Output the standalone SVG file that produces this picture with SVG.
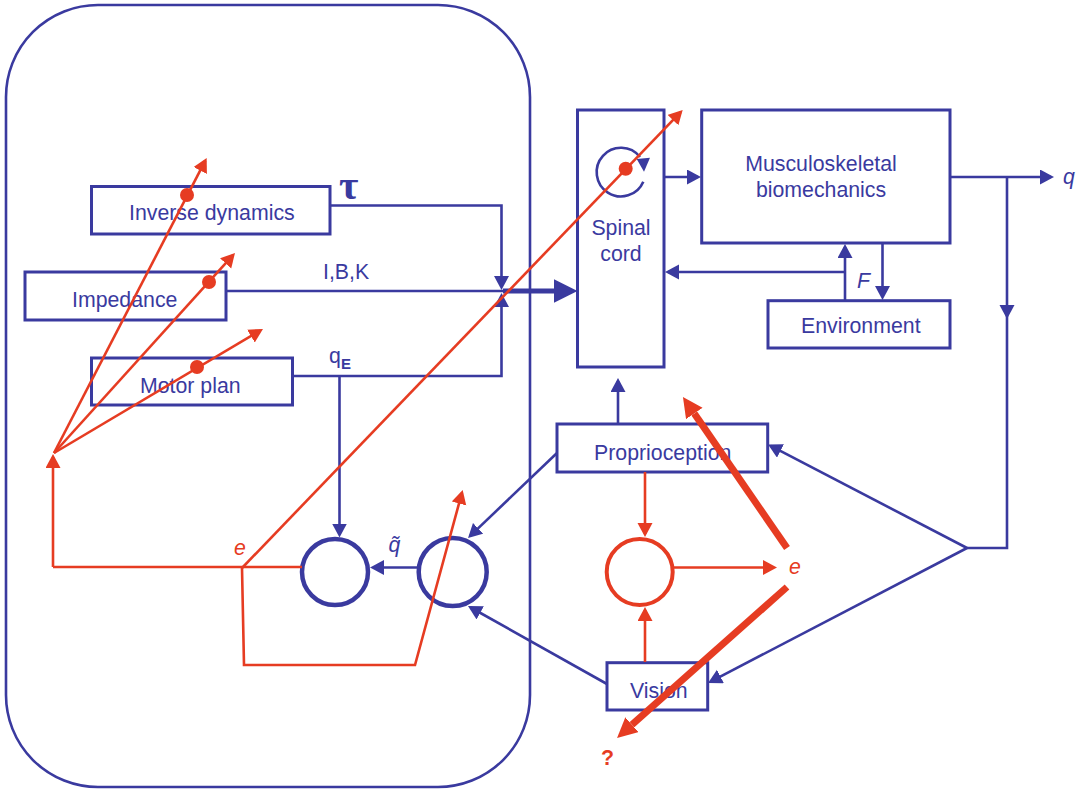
<svg xmlns="http://www.w3.org/2000/svg" width="1082" height="790" viewBox="0 0 1082 790">
<style>
.b{fill:#fff;stroke:#3a3a9f;stroke-width:3}
.l{fill:none;stroke:#3a3a9f;stroke-width:2.6}
.r{fill:none;stroke:#e63c22;stroke-width:2.6}
.rt{fill:none;stroke:#e63c22;stroke-width:7}
.t{font-family:"Liberation Sans",Arial,sans-serif;font-size:21.3px;fill:#3a3a9f}
.m{text-anchor:middle}
.i{font-style:italic}
.re{fill:#e63c22}
.bl{fill:#3a3a9f}
.c{fill:#fff;stroke:#3a3a9f;stroke-width:4.5}
.cr{fill:#fff;stroke:#e63c22;stroke-width:4}
</style>
<defs>
<marker id="ab" markerUnits="userSpaceOnUse" markerWidth="16" markerHeight="16" refX="11" refY="7.500" orient="auto"><path d="M0 0L14 7.500L0 15z" fill="#3a3a9f"/></marker>
<marker id="abb" markerUnits="userSpaceOnUse" markerWidth="25" markerHeight="25" refX="16" refY="12" orient="auto"><path d="M0 0L24 12L0 24z" fill="#3a3a9f"/></marker>
<marker id="ar" markerUnits="userSpaceOnUse" markerWidth="16" markerHeight="16" refX="11" refY="7.500" orient="auto"><path d="M0 0L14 7.500L0 15z" fill="#e63c22"/></marker>
<marker id="arb" markerUnits="userSpaceOnUse" markerWidth="24" markerHeight="24" refX="0" refY="10" orient="auto"><path d="M0 0L20 10L0 20z" fill="#e63c22"/></marker>
</defs>
<rect id="boundary" x="6" y="5" width="524" height="782" rx="92" ry="92" fill="#fff" stroke="#3a3a9f" stroke-width="2.600"/>
<g id="connectors-blue">
<path class="l" d="M330 205.500H501.500V287" marker-end="url(#ab)"/>
<path class="l" d="M292 376H501.500V296" marker-end="url(#ab)"/>
<path class="l" d="M226 291H505"/>
<path fill="none" stroke="#3a3a9f" stroke-width="5" d="M503 291H569.500" marker-end="url(#abb)"/>
<path class="l" d="M339.500 376V534.500" marker-end="url(#ab)"/>
<path class="l" d="M418 567.500H373" marker-end="url(#ab)"/>
<path class="l" d="M557 453L470.200 535.900" marker-end="url(#ab)"/>
<path class="l" d="M607 684L470.600 607.500" marker-end="url(#ab)"/>
<path class="l" d="M664 177H698" marker-end="url(#ab)"/>
<path class="l" d="M845 301V247" marker-end="url(#ab)"/>
<path class="l" d="M845 272H668" marker-end="url(#ab)"/>
<path class="l" d="M882.500 243V297" marker-end="url(#ab)"/>
<path class="l" d="M950 177H1051" marker-end="url(#ab)"/>
<path class="l" d="M1007 177V316" marker-end="url(#ab)"/>
<path class="l" d="M1007 316V548H967"/>
<path class="l" d="M967 548L770.700 445.900" marker-end="url(#ab)"/>
<path class="l" d="M967 548L710.700 681.600" marker-end="url(#ab)"/>
<path class="l" d="M618 424V381" marker-end="url(#ab)"/>
<path class="l" d="M643.300 181.700A24.300 24.300 0 1 1 640 157"/>
<path class="bl" d="M650 157.700L636.700 159L644 171.700z"/>
</g>
<g id="inverse-dynamics"><rect class="b" x="91.500" y="186.500" width="238.500" height="47.500"/><text class="t" x="129" y="220">Inverse dynamics</text></g>
<g id="impedance"><rect class="b" x="25" y="272" width="201" height="48"/><text class="t" x="72" y="306.500">Impedance</text></g>
<g id="motor-plan"><rect class="b" x="91.500" y="358" width="201" height="47"/><text class="t" x="140" y="393">Motor plan</text></g>
<g id="spinal-cord"><rect fill="none" stroke="#3a3a9f" stroke-width="3" x="577.500" y="110" width="86.500" height="257"/><text class="t m" x="621" y="235">Spinal</text><text class="t m" x="621" y="261">cord</text></g>
<g id="musculoskeletal"><rect class="b" x="701.700" y="110" width="248.300" height="133"/><text class="t m" x="821" y="171">Musculoskeletal</text><text class="t m" x="821" y="197">biomechanics</text></g>
<g id="environment"><rect class="b" x="768" y="300.700" width="182" height="47.300"/><text class="t" x="801" y="333">Environment</text></g>
<g id="proprioception"><rect class="b" x="557" y="424" width="210.700" height="48"/><text class="t" x="594" y="460">Proprioception</text></g>
<g id="vision"><rect class="b" x="607" y="662.700" width="100.700" height="47.300"/><text class="t" x="630" y="698">Vision</text></g>
<g id="sum-left"><circle class="c" cx="335" cy="572" r="33"/></g>
<g id="sum-right"><circle class="c" cx="452.700" cy="572" r="34"/></g>
<g id="sum-red"><circle class="cr" cx="639.700" cy="572" r="33"/></g>
<g id="labels">
<text x="339" y="199" font-family="'Liberation Serif','Times New Roman',serif" font-weight="700" font-size="42" fill="#3a3a9f">τ</text>
<text class="t" x="323" y="279">I,B,K</text>
<text class="t" x="329" y="363">q</text>
<text class="t" x="341" y="369" style="font-size:15px;font-weight:700">E</text>
<text class="t i" x="388.500" y="552">q̃</text>
<text class="t i" x="857" y="288">F</text>
<text class="t i" x="1063" y="184">q</text>
<text class="t i" style="fill:#e63c22" x="234" y="555">e</text>
<text class="t i" style="fill:#e63c22" x="789" y="574">e</text>
<text class="t" style="fill:#e63c22;font-weight:700" x="601" y="765">?</text>
</g>
<g id="connectors-red">
<path class="r" d="M53 567V457" marker-end="url(#ar)"/>
<path class="r" d="M53 567H302"/>
<path class="r" d="M54 453L205.300 160.700" marker-end="url(#ar)"/>
<path class="r" d="M54 453L233 255.200" marker-end="url(#ar)"/>
<path class="r" d="M54 453L260.400 330.500" marker-end="url(#ar)"/>
<path class="r" d="M242 568L680.600 112.200" marker-end="url(#ar)"/>
<path class="r" d="M242 568L244 665H415L461.900 492.900" marker-end="url(#ar)"/>
<path class="r" d="M645 472V534" marker-end="url(#ar)"/>
<path class="r" d="M645 662V610" marker-end="url(#ar)"/>
<path class="r" d="M674 567.500H774" marker-end="url(#ar)"/>
<path class="rt" d="M787 548L694.300 413.500" marker-end="url(#arb)"/>
<path class="rt" d="M787 587L632 724.700" marker-end="url(#arb)"/>
<circle class="re" cx="187" cy="195" r="7"/>
<circle class="re" cx="209" cy="282" r="7"/>
<circle class="re" cx="197" cy="367" r="7"/>
<circle class="re" cx="625.700" cy="168.700" r="7"/>
</g>
</svg>
